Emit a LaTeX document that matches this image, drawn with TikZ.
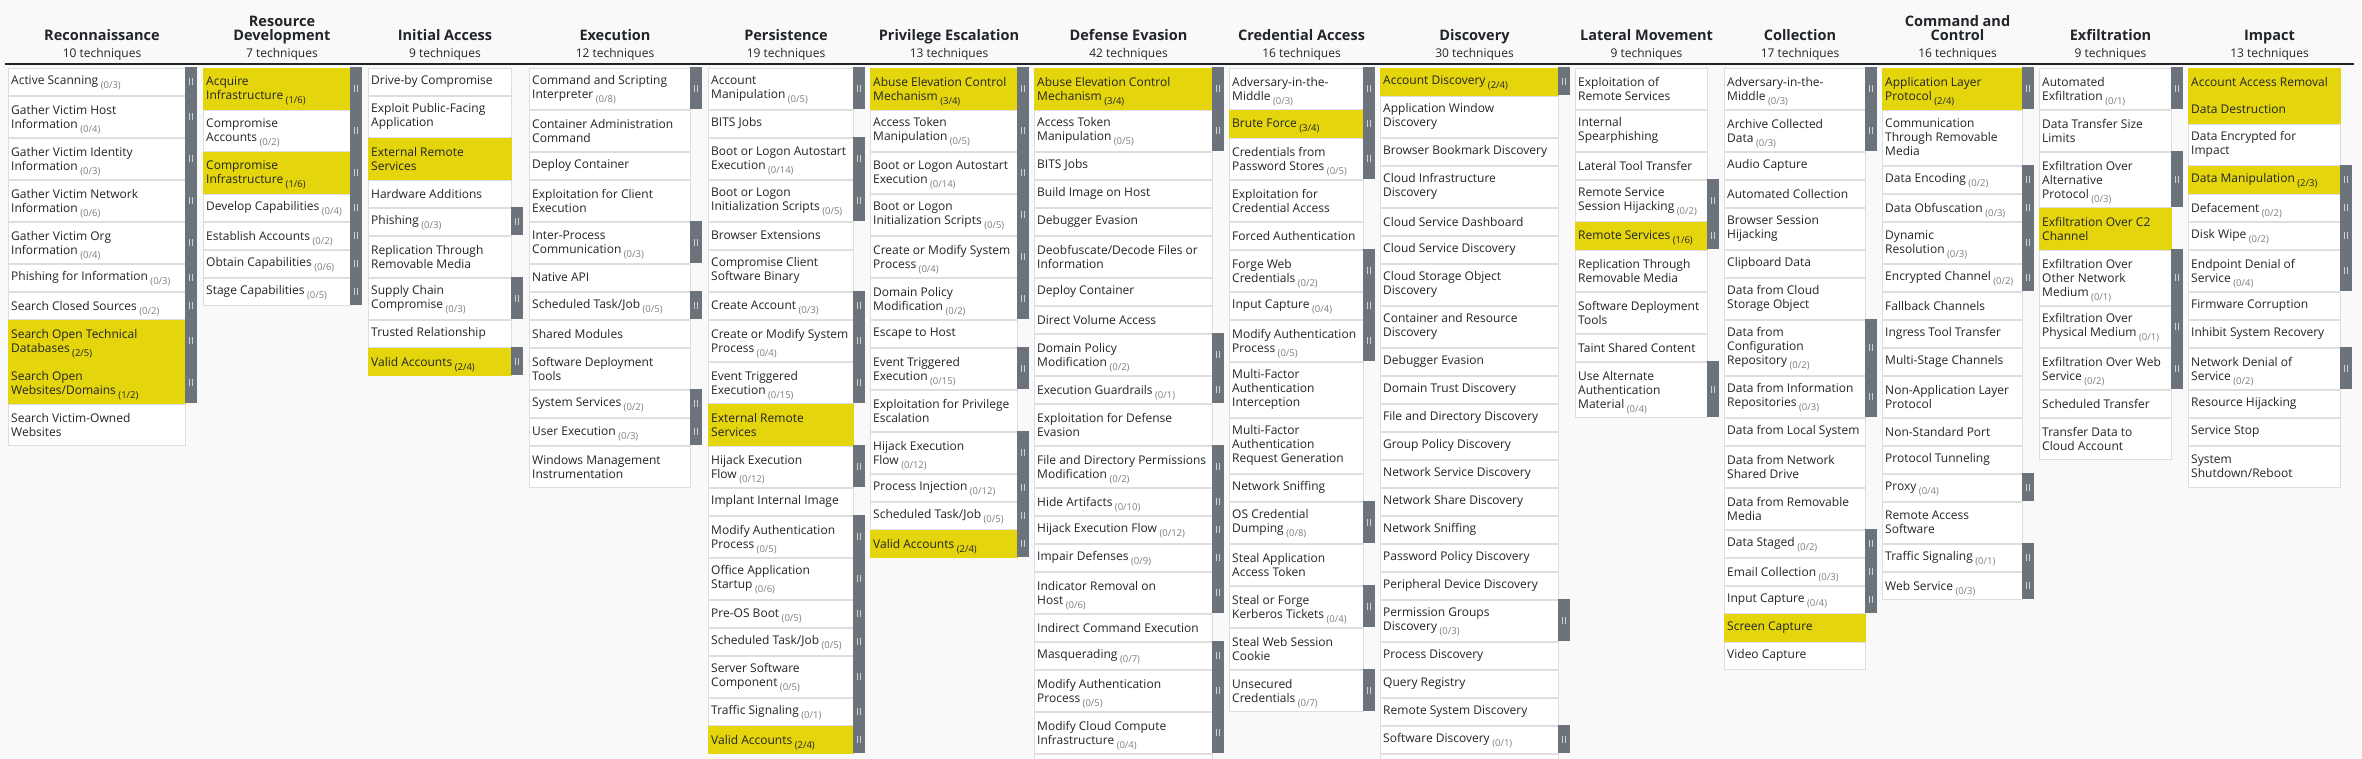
\documentclass[tikz,border=0pt]{standalone}
\usepackage{fontspec}
\setmainfont{Open Sans}

\definecolor{pagebg}{HTML}{F9F9F9}
\definecolor{cellline}{HTML}{DEDEDE}
\definecolor{hilite}{HTML}{E5D50C}
\definecolor{handlegray}{HTML}{6C737A}
\definecolor{handlebar}{HTML}{CDD1D5}
\definecolor{ink}{HTML}{212529}
\definecolor{subgray}{HTML}{7E7E7E}

\newcommand\celltextfont{\fontsize{12}{14}\selectfont}
\newcommand\tacticfont{\fontsize{14.5}{13.5}\selectfont\bfseries}
\newcommand\countfont{\fontsize{12}{14}\selectfont}
\newcommand\subfont{\fontsize{9.5}{10}\selectfont}
\newcommand\grip{\rule{1pt}{7pt}\hspace{1.6pt}\rule{1pt}{7pt}}
\def\nosub{-}

\tikzset{
  cell/.style={line width=1pt, inner sep=0pt, anchor=north west},
  celltext/.style={anchor=west, align=left, inner sep=0pt, text=ink, font=\celltextfont},
  handle/.style={fill=handlegray, inner sep=0pt, anchor=north west, minimum width=12pt, text=handlebar},
  tactic/.style={anchor=base, align=center, inner sep=0pt, text=ink, font=\tacticfont},
  tcount/.style={anchor=base, inner sep=0pt, text=ink, font=\countfont},
  headline/.style={line width=1.2pt, ink}
}

% #1 name, #2 left x, #3 cell width, #4 title, #5 number, #6 techniques
\newcommand\tacticcol[6]{%
  \node[tactic] (#1) at (#2+#3/2+6, 40) {#4};
  \node[tcount] (#1-n) at (#2+#3/2+6, 57) {#5 techniques};
  \gdef\ytop{67}
  \foreach \tname/\tsub/\tlines/\thl [count=\i] in {#6} {
    \pgfmathtruncatemacro\hgt{14*\tlines+14}
    \ifnum\thl=1 \def\cfill{hilite}\def\cedge{hilite}\def\subcol{ink}%
    \else\def\cfill{white}\def\cedge{cellline}\def\subcol{subgray}\fi
    \node[cell, fill=\cfill, draw=\cedge, minimum width=#3-1, minimum height=\hgt-1] (#1-\i) at (#2+0.5, \ytop+0.5) {};
    \edef\tmpsub{\tsub}
    \ifx\tmpsub\nosub
      \node[celltext] (#1-\i-t) at ([xshift=3.5pt]#1-\i.west) {\tname};
    \else
      \node[celltext] (#1-\i-t) at ([xshift=3.5pt]#1-\i.west) {\tname\hspace{2.5pt}\raisebox{-4pt}[0pt][0pt]{\subfont\color{\subcol}(\tsub)}};
      \node[handle, minimum height=\hgt] (#1-\i-h) at (#2+#3, \ytop) {\grip};
    \fi
    \pgfmathtruncatemacro\ynext{\ytop+\hgt}
    \xdef\ytop{\ynext}
  }
}

\begin{document}
\begin{tikzpicture}[x=1pt, y=-1pt]
  \fill[pagebg] (0,0) rectangle (2362,758);
  \useasboundingbox (0,0) rectangle (2362,758);
  \draw[headline] (5,64) -- (2354,64);

  \tacticcol{recon}{7}{178}{Reconnaissance}{10}{
    {Active Scanning}/{0/3}/1/0,
    {Gather Victim Host\\Information}/{0/4}/2/0,
    {Gather Victim Identity\\Information}/{0/3}/2/0,
    {Gather Victim Network\\Information}/{0/6}/2/0,
    {Gather Victim Org\\Information}/{0/4}/2/0,
    {Phishing for Information}/{0/3}/1/0,
    {Search Closed Sources}/{0/2}/1/0,
    {Search Open Technical\\Databases}/{2/5}/2/1,
    {Search Open\\Websites/Domains}/{1/2}/2/1,
    {Search Victim-Owned\\Websites}/-/2/0}

  \tacticcol{resdev}{202}{148}{Resource\\Development}{7}{
    {Acquire\\Infrastructure}/{1/6}/2/1,
    {Compromise\\Accounts}/{0/2}/2/0,
    {Compromise\\Infrastructure}/{1/6}/2/1,
    {Develop Capabilities}/{0/4}/1/0,
    {Establish Accounts}/{0/2}/1/0,
    {Obtain Capabilities}/{0/6}/1/0,
    {Stage Capabilities}/{0/5}/1/0}

  \tacticcol{initial}{367}{144}{Initial Access}{9}{
    {Drive-by Compromise}/-/1/0,
    {Exploit Public-Facing\\Application}/-/2/0,
    {External Remote\\Services}/-/2/1,
    {Hardware Additions}/-/1/0,
    {Phishing}/{0/3}/1/0,
    {Replication Through\\Removable Media}/-/2/0,
    {Supply Chain\\Compromise}/{0/3}/2/0,
    {Trusted Relationship}/-/1/0,
    {Valid Accounts}/{2/4}/1/1}

  \tacticcol{exec}{528}{162}{Execution}{12}{
    {Command and Scripting\\Interpreter}/{0/8}/2/0,
    {Container Administration\\Command}/-/2/0,
    {Deploy Container}/-/1/0,
    {Exploitation for Client\\Execution}/-/2/0,
    {Inter-Process\\Communication}/{0/3}/2/0,
    {Native API}/-/1/0,
    {Scheduled Task/Job}/{0/5}/1/0,
    {Shared Modules}/-/1/0,
    {Software Deployment\\Tools}/-/2/0,
    {System Services}/{0/2}/1/0,
    {User Execution}/{0/3}/1/0,
    {Windows Management\\Instrumentation}/-/2/0}

  \tacticcol{persist}{707}{146}{Persistence}{19}{
    {Account\\Manipulation}/{0/5}/2/0,
    {BITS Jobs}/-/1/0,
    {Boot or Logon Autostart\\Execution}/{0/14}/2/0,
    {Boot or Logon\\Initialization Scripts}/{0/5}/2/0,
    {Browser Extensions}/-/1/0,
    {Compromise Client\\Software Binary}/-/2/0,
    {Create Account}/{0/3}/1/0,
    {Create or Modify System\\Process}/{0/4}/2/0,
    {Event Triggered\\Execution}/{0/15}/2/0,
    {External Remote\\Services}/-/2/1,
    {Hijack Execution\\Flow}/{0/12}/2/0,
    {Implant Internal Image}/-/1/0,
    {Modify Authentication\\Process}/{0/5}/2/0,
    {Office Application\\Startup}/{0/6}/2/0,
    {Pre-OS Boot}/{0/5}/1/0,
    {Scheduled Task/Job}/{0/5}/1/0,
    {Server Software\\Component}/{0/5}/2/0,
    {Traffic Signaling}/{0/1}/1/0,
    {Valid Accounts}/{2/4}/1/1}

  \tacticcol{privesc}{869}{148}{Privilege Escalation}{13}{
    {Abuse Elevation Control\\Mechanism}/{3/4}/2/1,
    {Access Token\\Manipulation}/{0/5}/2/0,
    {Boot or Logon Autostart\\Execution}/{0/14}/2/0,
    {Boot or Logon\\Initialization Scripts}/{0/5}/2/0,
    {Create or Modify System\\Process}/{0/4}/2/0,
    {Domain Policy\\Modification}/{0/2}/2/0,
    {Escape to Host}/-/1/0,
    {Event Triggered\\Execution}/{0/15}/2/0,
    {Exploitation for Privilege\\Escalation}/-/2/0,
    {Hijack Execution\\Flow}/{0/12}/2/0,
    {Process Injection}/{0/12}/1/0,
    {Scheduled Task/Job}/{0/5}/1/0,
    {Valid Accounts}/{2/4}/1/1}

  \tacticcol{evasion}{1033}{179}{Defense Evasion}{42}{
    {Abuse Elevation Control\\Mechanism}/{3/4}/2/1,
    {Access Token\\Manipulation}/{0/5}/2/0,
    {BITS Jobs}/-/1/0,
    {Build Image on Host}/-/1/0,
    {Debugger Evasion}/-/1/0,
    {Deobfuscate/Decode Files or\\Information}/-/2/0,
    {Deploy Container}/-/1/0,
    {Direct Volume Access}/-/1/0,
    {Domain Policy\\Modification}/{0/2}/2/0,
    {Execution Guardrails}/{0/1}/1/0,
    {Exploitation for Defense\\Evasion}/-/2/0,
    {File and Directory Permissions\\Modification}/{0/2}/2/0,
    {Hide Artifacts}/{0/10}/1/0,
    {Hijack Execution Flow}/{0/12}/1/0,
    {Impair Defenses}/{0/9}/1/0,
    {Indicator Removal on\\Host}/{0/6}/2/0,
    {Indirect Command Execution}/-/1/0,
    {Masquerading}/{0/7}/1/0,
    {Modify Authentication\\Process}/{0/5}/2/0,
    {Modify Cloud Compute\\Infrastructure}/{0/4}/2/0}
  \node[cell, fill=white, draw=cellline, minimum width=178, minimum height=20] (evasion-more) at (1033.5, 753.5) {};

  \tacticcol{cred}{1228}{135}{Credential Access}{16}{
    {Adversary-in-the-\\Middle}/{0/3}/2/0,
    {Brute Force}/{3/4}/1/1,
    {Credentials from\\Password Stores}/{0/5}/2/0,
    {Exploitation for\\Credential Access}/-/2/0,
    {Forced Authentication}/-/1/0,
    {Forge Web\\Credentials}/{0/2}/2/0,
    {Input Capture}/{0/4}/1/0,
    {Modify Authentication\\Process}/{0/5}/2/0,
    {Multi-Factor\\Authentication\\Interception}/-/3/0,
    {Multi-Factor\\Authentication\\Request Generation}/-/3/0,
    {Network Sniffing}/-/1/0,
    {OS Credential\\Dumping}/{0/8}/2/0,
    {Steal Application\\Access Token}/-/2/0,
    {Steal or Forge\\Kerberos Tickets}/{0/4}/2/0,
    {Steal Web Session\\Cookie}/-/2/0,
    {Unsecured\\Credentials}/{0/7}/2/0}

  \tacticcol{discovery}{1379}{179}{Discovery}{30}{
    {Account Discovery}/{2/4}/1/1,
    {Application Window\\Discovery}/-/2/0,
    {Browser Bookmark Discovery}/-/1/0,
    {Cloud Infrastructure\\Discovery}/-/2/0,
    {Cloud Service Dashboard}/-/1/0,
    {Cloud Service Discovery}/-/1/0,
    {Cloud Storage Object\\Discovery}/-/2/0,
    {Container and Resource\\Discovery}/-/2/0,
    {Debugger Evasion}/-/1/0,
    {Domain Trust Discovery}/-/1/0,
    {File and Directory Discovery}/-/1/0,
    {Group Policy Discovery}/-/1/0,
    {Network Service Discovery}/-/1/0,
    {Network Share Discovery}/-/1/0,
    {Network Sniffing}/-/1/0,
    {Password Policy Discovery}/-/1/0,
    {Peripheral Device Discovery}/-/1/0,
    {Permission Groups\\Discovery}/{0/3}/2/0,
    {Process Discovery}/-/1/0,
    {Query Registry}/-/1/0,
    {Remote System Discovery}/-/1/0,
    {Software Discovery}/{0/1}/1/0}
  \node[cell, fill=white, draw=cellline, minimum width=178, minimum height=20] (discovery-more) at (1379.5, 753.5) {};

  \tacticcol{lateral}{1574}{133}{Lateral Movement}{9}{
    {Exploitation of\\Remote Services}/-/2/0,
    {Internal\\Spearphishing}/-/2/0,
    {Lateral Tool Transfer}/-/1/0,
    {Remote Service\\Session Hijacking}/{0/2}/2/0,
    {Remote Services}/{1/6}/1/1,
    {Replication Through\\Removable Media}/-/2/0,
    {Software Deployment\\Tools}/-/2/0,
    {Taint Shared Content}/-/1/0,
    {Use Alternate\\Authentication\\Material}/{0/4}/3/0}

  \tacticcol{collect}{1723}{142}{Collection}{17}{
    {Adversary-in-the-\\Middle}/{0/3}/2/0,
    {Archive Collected\\Data}/{0/3}/2/0,
    {Audio Capture}/-/1/0,
    {Automated Collection}/-/1/0,
    {Browser Session\\Hijacking}/-/2/0,
    {Clipboard Data}/-/1/0,
    {Data from Cloud\\Storage Object}/-/2/0,
    {Data from\\Configuration\\Repository}/{0/2}/3/0,
    {Data from Information\\Repositories}/{0/3}/2/0,
    {Data from Local System}/-/1/0,
    {Data from Network\\Shared Drive}/-/2/0,
    {Data from Removable\\Media}/-/2/0,
    {Data Staged}/{0/2}/1/0,
    {Email Collection}/{0/3}/1/0,
    {Input Capture}/{0/4}/1/0,
    {Screen Capture}/-/1/1,
    {Video Capture}/-/1/0}

  \tacticcol{c2}{1881}{141}{Command and\\Control}{16}{
    {Application Layer\\Protocol}/{2/4}/2/1,
    {Communication\\Through Removable\\Media}/-/3/0,
    {Data Encoding}/{0/2}/1/0,
    {Data Obfuscation}/{0/3}/1/0,
    {Dynamic\\Resolution}/{0/3}/2/0,
    {Encrypted Channel}/{0/2}/1/0,
    {Fallback Channels}/-/1/0,
    {Ingress Tool Transfer}/-/1/0,
    {Multi-Stage Channels}/-/1/0,
    {Non-Application Layer\\Protocol}/-/2/0,
    {Non-Standard Port}/-/1/0,
    {Protocol Tunneling}/-/1/0,
    {Proxy}/{0/4}/1/0,
    {Remote Access\\Software}/-/2/0,
    {Traffic Signaling}/{0/1}/1/0,
    {Web Service}/{0/3}/1/0}

  \tacticcol{exfil}{2038}{133}{Exfiltration}{9}{
    {Automated\\Exfiltration}/{0/1}/2/0,
    {Data Transfer Size\\Limits}/-/2/0,
    {Exfiltration Over\\Alternative\\Protocol}/{0/3}/3/0,
    {Exfiltration Over C2\\Channel}/-/2/1,
    {Exfiltration Over\\Other Network\\Medium}/{0/1}/3/0,
    {Exfiltration Over\\Physical Medium}/{0/1}/2/0,
    {Exfiltration Over Web\\Service}/{0/2}/2/0,
    {Scheduled Transfer}/-/1/0,
    {Transfer Data to\\Cloud Account}/-/2/0}

  \tacticcol{impact}{2187}{153}{Impact}{13}{
    {Account Access Removal}/-/1/1,
    {Data Destruction}/-/1/1,
    {Data Encrypted for\\Impact}/-/2/0,
    {Data Manipulation}/{2/3}/1/1,
    {Defacement}/{0/2}/1/0,
    {Disk Wipe}/{0/2}/1/0,
    {Endpoint Denial of\\Service}/{0/4}/2/0,
    {Firmware Corruption}/-/1/0,
    {Inhibit System Recovery}/-/1/0,
    {Network Denial of\\Service}/{0/2}/2/0,
    {Resource Hijacking}/-/1/0,
    {Service Stop}/-/1/0,
    {System\\Shutdown/Reboot}/-/2/0}
\end{tikzpicture}
\end{document}
